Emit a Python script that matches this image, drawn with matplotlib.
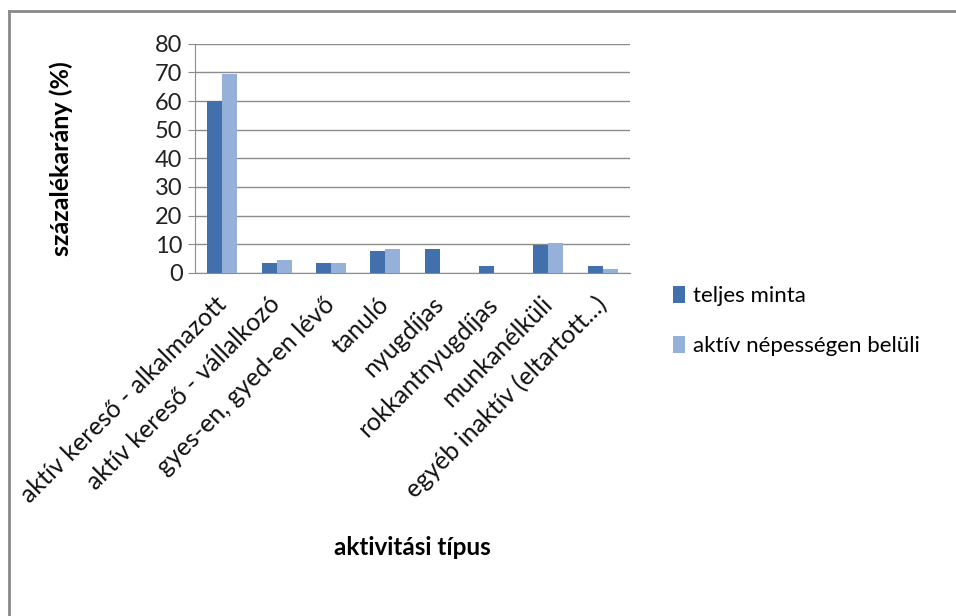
import matplotlib
matplotlib.use("Agg")
import matplotlib.pyplot as plt
import matplotlib.transforms as mtransforms
import numpy as np
from matplotlib.lines import Line2D

plt.rcParams["font.family"] = ["Lato", "DejaVu Sans"]

categories = [
    "aktív kereső - alkalmazott",
    "aktív kereső - vállalkozó",
    "gyes-en, gyed-en lévő",
    "tanuló",
    "nyugdíjas",
    "rokkantnyugdíjas",
    "munkanélküli",
    "egyéb inaktív (eltartott...)",
]
teljes_minta = [60.0, 3.6, 3.6, 7.6, 8.5, 2.4, 9.7, 2.4]
aktiv_nepesseg = [69.5, 4.5, 3.6, 8.5, 0.0, 0.0, 10.5, 1.5]
series_names = ["teljes minta", "aktív népességen belüli"]
yticks = [0, 10, 20, 30, 40, 50, 60, 70, 80]

c_dark = "#4270AC"
c_light = "#95B0D9"

fig = plt.figure(figsize=(9.56, 6.16), dpi=100)
ax = fig.add_axes([0.204, 0.557, 0.455, 0.372])

x = np.arange(len(categories))
w = 0.275
ax.bar(x - w / 2, teljes_minta, w, color=c_dark, label=series_names[0], zorder=3)
ax.bar(x + w / 2, aktiv_nepesseg, w, color=c_light, label=series_names[1], zorder=3)

ax.set_xlim(-0.5, len(categories) - 0.5)
ax.set_ylim(0, 80)
ax.set_yticks(yticks)
ax.yaxis.grid(True, color="#8c8c8c", linewidth=1.0, zorder=0)
ax.tick_params(axis="y", length=5, color="#8c8c8c", labelsize=17, pad=4,
               labelcolor="#222222")
ax.tick_params(axis="x", length=0, labelsize=18, pad=14, labelcolor="#111111")
ax.set_xticks(x)
ax.set_xticklabels(categories, rotation=45, ha="right", rotation_mode="anchor")
# nudge the rotated labels a little to the left, as in the original
shift = mtransforms.ScaledTranslation(-8 / 100, 0, fig.dpi_scale_trans)
for lbl in ax.get_xticklabels():
    lbl.set_transform(lbl.get_transform() + shift)
for s in ["top", "right"]:
    ax.spines[s].set_visible(False)
ax.spines["left"].set_color("#8c8c8c")
ax.spines["bottom"].set_color("#8c8c8c")

ax.set_ylabel("százalékarány (%)", fontsize=18, fontweight="bold")
ax.yaxis.set_label_coords(-0.28, 0.5)
ax.set_xlabel("aktivitási típus", fontsize=17.5, fontweight="bold")
ax.xaxis.set_label_coords(0.5, -1.15)

fig.legend(loc="upper left", bbox_to_anchor=(0.683, 0.568), frameon=False,
           fontsize=16, handlelength=0.55, handleheight=0.75, handletextpad=0.35,
           labelspacing=1.35)

# chart border (only left and top visible in the cropped original)
fig.add_artist(Line2D([0.0095, 0.0095], [0.0, 0.982], color="#8a8a8a", linewidth=2,
                      transform=fig.transFigure))
fig.add_artist(Line2D([0.0095, 1.0], [0.982, 0.982], color="#8a8a8a", linewidth=2,
                      transform=fig.transFigure))

fig.savefig("out.png", dpi=100)
